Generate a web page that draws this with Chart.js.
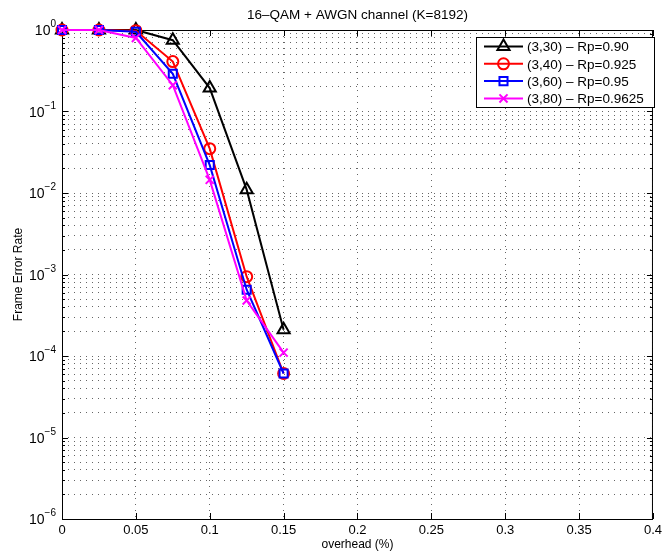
<!DOCTYPE html>
<html>
<head>
<meta charset="utf-8">
<script src="https://cdn.jsdelivr.net/npm/chart.js@4/dist/chart.umd.min.js"></script>
<style>
  body { margin: 0; background: #fff; }
  #wrap { width: 666px; height: 556px; }
</style>
</head>
<body>
<div id="wrap"><canvas id="chart-area" width="666" height="556"></canvas></div>
<script>
// data
var overhead = [0, 0.025, 0.05, 0.075, 0.1, 0.125, 0.15];
var fer30 = [1, 1, 1, 0.75, 0.194, 0.011, 2.1e-4];
var fer40 = [1, 1, 0.98, 0.41, 0.035, 9.4e-4, 6.1e-5];
var fer60 = [1, 1, 0.95, 0.29, 0.022, 6.5e-4, 6.1e-5];
var fer80 = [1, 1, 0.80, 0.21, 0.0145, 4.8e-4, 1.1e-4];
var seriesLabels = ['(3,30) \u2013 Rp=0.90', '(3,40) \u2013 Rp=0.925', '(3,60) \u2013 Rp=0.95', '(3,80) \u2013 Rp=0.9625'];
var seriesColors = ['#000000', '#ff0000', '#0000ff', '#ff00ff'];
var seriesMarkers = ['triangle', 'circle', 'rect', 'crossRot'];
var markerSizes = [7, 5.5, 5.7, 5.7];
var xTicks = [0, 0.05, 0.1, 0.15, 0.2, 0.25, 0.3, 0.35, 0.4];
var yExponents = [-6, -5, -4, -3, -2, -1, 0];

var FONT = '"Liberation Sans", Arial, sans-serif';

function pts(vals) {
  return vals.map(function(v, i) { return {x: overhead[i], y: v}; });
}

var yTickValues = [];
yExponents.forEach(function(e) {
  if (e === 0) { yTickValues.push(1); return; }
  for (var k = 1; k <= 9; k++) yTickValues.push(k * Math.pow(10, e));
});

var allSeries = [fer30, fer40, fer60, fer80];
var datasets = allSeries.map(function(vals, i) {
  return {
    label: seriesLabels[i],
    data: pts(vals),
    borderColor: seriesColors[i],
    backgroundColor: 'rgba(0,0,0,0)',
    borderWidth: 2,
    pointStyle: seriesMarkers[i],
    pointRadius: markerSizes[i],
    pointBorderWidth: 2,
    pointBackgroundColor: 'rgba(0,0,0,0)',
    pointBorderColor: seriesColors[i],
    tension: 0,
    clip: false,
    order: 4 - i
  };
});

function drawMarker(ctx, style, x, y, r, color) {
  ctx.save();
  ctx.strokeStyle = color;
  ctx.lineWidth = 2;
  ctx.beginPath();
  if (style === 'triangle') {
    var a = 0;
    ctx.moveTo(x + Math.sin(a) * r, y - Math.cos(a) * r);
    a += 2 * Math.PI / 3;
    ctx.lineTo(x + Math.sin(a) * r, y - Math.cos(a) * r);
    a += 2 * Math.PI / 3;
    ctx.lineTo(x + Math.sin(a) * r, y - Math.cos(a) * r);
    ctx.closePath();
  } else if (style === 'circle') {
    ctx.arc(x, y, r, 0, Math.PI * 2);
  } else if (style === 'rect') {
    var s = Math.SQRT1_2 * r;
    ctx.rect(x - s, y - s, 2 * s, 2 * s);
  } else {
    var d = Math.SQRT1_2 * r;
    ctx.moveTo(x - d, y - d); ctx.lineTo(x + d, y + d);
    ctx.moveTo(x - d, y + d); ctx.lineTo(x + d, y - d);
  }
  ctx.stroke();
  ctx.restore();
}

var matlabLook = {
  id: 'matlabLook',
  beforeDatasetsDraw: function(chart) {
    var ctx = chart.ctx, a = chart.chartArea;
    var xs = chart.scales.x, ys = chart.scales.y;
    ctx.save();
    // frame
    ctx.strokeStyle = '#000';
    ctx.lineWidth = 1;
    ctx.strokeRect(a.left + 0.5, a.top + 0.5, a.right - a.left - 1, a.bottom - a.top);
    // inward ticks
    ctx.beginPath();
    xTicks.forEach(function(v) {
      var px = Math.round(xs.getPixelForValue(v)) + 0.5;
      ctx.moveTo(px, a.bottom); ctx.lineTo(px, a.bottom - 6);
      ctx.moveTo(px, a.top); ctx.lineTo(px, a.top + 6);
    });
    yTickValues.forEach(function(v) {
      var py = Math.round(ys.getPixelForValue(v)) + 0.5;
      var major = Math.abs(Math.log10(v) - Math.round(Math.log10(v))) < 1e-9;
      var len = major ? 6 : 3;
      ctx.moveTo(a.left, py); ctx.lineTo(a.left + len, py);
      ctx.moveTo(a.right, py); ctx.lineTo(a.right - len, py);
    });
    ctx.stroke();

    // y tick labels 10^n
    ctx.fillStyle = '#000';
    ctx.textBaseline = 'alphabetic';
    yExponents.forEach(function(e) {
      var py = ys.getPixelForValue(Math.pow(10, e));
      var expStr = e < 0 ? '\u2212' + (-e) : String(e);
      ctx.font = '10px ' + FONT;
      var we = ctx.measureText(expStr).width;
      ctx.font = '14px ' + FONT;
      var wb = ctx.measureText('10').width;
      var right = a.left - 6;
      ctx.textAlign = 'left';
      ctx.fillText('10', right - we - wb, py + 5);
      ctx.font = '10px ' + FONT;
      ctx.fillText(expStr, right - we, py - 3);
    });
    ctx.restore();
  },
  afterDraw: function(chart) {
    var ctx = chart.ctx, a = chart.chartArea;
    ctx.save();
    // title
    ctx.fillStyle = '#000';
    ctx.font = '13.5px ' + FONT;
    ctx.textAlign = 'center';
    ctx.textBaseline = 'middle';
    ctx.fillText('16\u2013QAM + AWGN channel (K=8192)', (a.left + a.right) / 2, 15);

    // legend box
    var bx = 476, by = 37, bw = 178, bh = 70;
    ctx.fillStyle = '#fff';
    ctx.fillRect(bx, by, bw, bh);
    ctx.strokeStyle = '#000';
    ctx.lineWidth = 1;
    ctx.strokeRect(bx + 0.5, by + 0.5, bw, bh);
    ctx.font = '13.5px ' + FONT;
    ctx.textAlign = 'left';
    ctx.textBaseline = 'middle';
    seriesLabels.forEach(function(lbl, i) {
      var ry = by + 9.5 + i * 17.3;
      ctx.strokeStyle = seriesColors[i];
      ctx.lineWidth = 2;
      ctx.beginPath();
      ctx.moveTo(bx + 8, ry); ctx.lineTo(bx + 47, ry);
      ctx.stroke();
      drawMarker(ctx, seriesMarkers[i], bx + 27.5, ry, markerSizes[i], seriesColors[i]);
      ctx.fillStyle = '#000';
      ctx.fillText(lbl, bx + 51, ry + 1);
    });
    ctx.restore();
  }
};

var config = {
  type: 'line',
  data: { datasets: datasets },
  options: {
    responsive: false,
    animation: false,
    layout: { padding: { top: 30, right: 8, left: 0, bottom: 0 } },
    plugins: {
      legend: { display: false },
      title: { display: false },
      tooltip: { enabled: false }
    },
    scales: {
      x: {
        type: 'linear',
        min: 0,
        max: 0.4,
        afterBuildTicks: function(scale) {
          scale.ticks = xTicks.map(function(v) { return {value: v}; });
        },
        afterFit: function(scale) { scale.height = 37; },
        ticks: {
          autoSkip: false,
          maxRotation: 0,
          padding: 4,
          color: '#000',
          font: { family: FONT, size: 13 },
          callback: function(v) { return String(v); }
        },
        grid: { color: '#666666', lineWidth: 1, drawTicks: false },
        border: { display: false, dash: [1, 5] },
        title: {
          display: true,
          text: 'overhead (%)',
          color: '#000',
          font: { family: FONT, size: 12 },
          padding: { top: 0, bottom: 4 }
        }
      },
      y: {
        type: 'logarithmic',
        min: 1e-6,
        max: 1,
        afterBuildTicks: function(scale) {
          scale.ticks = yTickValues.map(function(v) { return {value: v}; });
        },
        afterFit: function(scale) { scale.width = 62; },
        ticks: {
          autoSkip: false,
          color: '#000',
          font: { family: FONT, size: 12 },
          callback: function() { return ''; }
        },
        grid: { color: '#666666', lineWidth: 1, drawTicks: false },
        border: { display: false, dash: [1, 5] },
        title: {
          display: true,
          text: 'Frame Error Rate',
          color: '#000',
          font: { family: FONT, size: 12 },
          padding: { top: 11, bottom: 0 }
        }
      }
    }
  },
  plugins: [matlabLook]
};

window.onload = function() {
  var ctx = document.getElementById('chart-area').getContext('2d');
  window.myChart = new Chart(ctx, config);
};
</script>
</body>
</html>
